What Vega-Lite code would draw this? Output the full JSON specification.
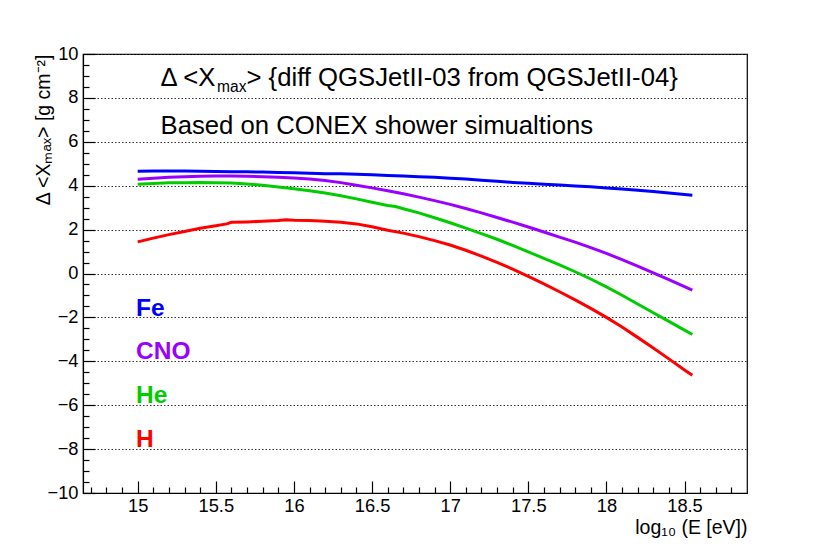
{
  "$schema": "https://vega.github.io/schema/vega-lite/v6.json",
  "width": 664,
  "height": 439,
  "autosize": {"type": "none"},
  "padding": {"left": 83, "top": 54, "right": 83, "bottom": 55},
  "background": "white",
  "config": {
    "view": {"stroke": "black", "strokeWidth": 1.2},
    "font": "Liberation Sans",
    "axis": {
      "domainColor": "black",
      "domainWidth": 1.2,
      "tickColor": "black",
      "tickWidth": 1.2,
      "labelColor": "black",
      "labelFont": "Liberation Sans",
      "labelFontSize": 18.3,
      "titleFont": "Liberation Sans",
      "titleFontWeight": "normal",
      "titleColor": "black"
    }
  },
  "datasets": {
    "curves": [
      {"logE": 15.0, "dXmax": 4.66, "primary": "Fe"},
      {"logE": 15.1, "dXmax": 4.67, "primary": "Fe"},
      {"logE": 15.2, "dXmax": 4.67, "primary": "Fe"},
      {"logE": 15.3, "dXmax": 4.67, "primary": "Fe"},
      {"logE": 15.4, "dXmax": 4.66, "primary": "Fe"},
      {"logE": 15.5, "dXmax": 4.65, "primary": "Fe"},
      {"logE": 15.6, "dXmax": 4.64, "primary": "Fe"},
      {"logE": 15.7, "dXmax": 4.63, "primary": "Fe"},
      {"logE": 15.8, "dXmax": 4.62, "primary": "Fe"},
      {"logE": 15.9, "dXmax": 4.60, "primary": "Fe"},
      {"logE": 16.0, "dXmax": 4.59, "primary": "Fe"},
      {"logE": 16.1, "dXmax": 4.57, "primary": "Fe"},
      {"logE": 16.2, "dXmax": 4.55, "primary": "Fe"},
      {"logE": 16.3, "dXmax": 4.54, "primary": "Fe"},
      {"logE": 16.4, "dXmax": 4.52, "primary": "Fe"},
      {"logE": 16.5, "dXmax": 4.50, "primary": "Fe"},
      {"logE": 16.6, "dXmax": 4.47, "primary": "Fe"},
      {"logE": 16.7, "dXmax": 4.44, "primary": "Fe"},
      {"logE": 16.8, "dXmax": 4.41, "primary": "Fe"},
      {"logE": 16.9, "dXmax": 4.38, "primary": "Fe"},
      {"logE": 17.0, "dXmax": 4.34, "primary": "Fe"},
      {"logE": 17.1, "dXmax": 4.30, "primary": "Fe"},
      {"logE": 17.2, "dXmax": 4.25, "primary": "Fe"},
      {"logE": 17.3, "dXmax": 4.20, "primary": "Fe"},
      {"logE": 17.4, "dXmax": 4.15, "primary": "Fe"},
      {"logE": 17.5, "dXmax": 4.11, "primary": "Fe"},
      {"logE": 17.6, "dXmax": 4.07, "primary": "Fe"},
      {"logE": 17.7, "dXmax": 4.03, "primary": "Fe"},
      {"logE": 17.8, "dXmax": 3.99, "primary": "Fe"},
      {"logE": 17.9, "dXmax": 3.95, "primary": "Fe"},
      {"logE": 18.0, "dXmax": 3.90, "primary": "Fe"},
      {"logE": 18.1, "dXmax": 3.85, "primary": "Fe"},
      {"logE": 18.2, "dXmax": 3.79, "primary": "Fe"},
      {"logE": 18.3, "dXmax": 3.74, "primary": "Fe"},
      {"logE": 18.4, "dXmax": 3.67, "primary": "Fe"},
      {"logE": 18.5, "dXmax": 3.60, "primary": "Fe"},
      {"logE": 18.55, "dXmax": 3.57, "primary": "Fe"},

      {"logE": 15.0, "dXmax": 4.29, "primary": "CNO"},
      {"logE": 15.1, "dXmax": 4.34, "primary": "CNO"},
      {"logE": 15.2, "dXmax": 4.38, "primary": "CNO"},
      {"logE": 15.3, "dXmax": 4.41, "primary": "CNO"},
      {"logE": 15.4, "dXmax": 4.43, "primary": "CNO"},
      {"logE": 15.5, "dXmax": 4.44, "primary": "CNO"},
      {"logE": 15.6, "dXmax": 4.44, "primary": "CNO"},
      {"logE": 15.7, "dXmax": 4.43, "primary": "CNO"},
      {"logE": 15.8, "dXmax": 4.41, "primary": "CNO"},
      {"logE": 15.9, "dXmax": 4.39, "primary": "CNO"},
      {"logE": 16.0, "dXmax": 4.35, "primary": "CNO"},
      {"logE": 16.1, "dXmax": 4.30, "primary": "CNO"},
      {"logE": 16.2, "dXmax": 4.24, "primary": "CNO"},
      {"logE": 16.3, "dXmax": 4.14, "primary": "CNO"},
      {"logE": 16.4, "dXmax": 4.02, "primary": "CNO"},
      {"logE": 16.5, "dXmax": 3.90, "primary": "CNO"},
      {"logE": 16.6, "dXmax": 3.77, "primary": "CNO"},
      {"logE": 16.7, "dXmax": 3.63, "primary": "CNO"},
      {"logE": 16.8, "dXmax": 3.48, "primary": "CNO"},
      {"logE": 16.9, "dXmax": 3.32, "primary": "CNO"},
      {"logE": 17.0, "dXmax": 3.15, "primary": "CNO"},
      {"logE": 17.1, "dXmax": 2.96, "primary": "CNO"},
      {"logE": 17.2, "dXmax": 2.76, "primary": "CNO"},
      {"logE": 17.3, "dXmax": 2.55, "primary": "CNO"},
      {"logE": 17.4, "dXmax": 2.34, "primary": "CNO"},
      {"logE": 17.5, "dXmax": 2.12, "primary": "CNO"},
      {"logE": 17.6, "dXmax": 1.89, "primary": "CNO"},
      {"logE": 17.7, "dXmax": 1.66, "primary": "CNO"},
      {"logE": 17.8, "dXmax": 1.43, "primary": "CNO"},
      {"logE": 17.9, "dXmax": 1.18, "primary": "CNO"},
      {"logE": 18.0, "dXmax": 0.92, "primary": "CNO"},
      {"logE": 18.1, "dXmax": 0.63, "primary": "CNO"},
      {"logE": 18.2, "dXmax": 0.34, "primary": "CNO"},
      {"logE": 18.3, "dXmax": 0.03, "primary": "CNO"},
      {"logE": 18.4, "dXmax": -0.28, "primary": "CNO"},
      {"logE": 18.5, "dXmax": -0.60, "primary": "CNO"},
      {"logE": 18.55, "dXmax": -0.76, "primary": "CNO"},

      {"logE": 15.0, "dXmax": 4.07, "primary": "He"},
      {"logE": 15.1, "dXmax": 4.10, "primary": "He"},
      {"logE": 15.2, "dXmax": 4.13, "primary": "He"},
      {"logE": 15.3, "dXmax": 4.14, "primary": "He"},
      {"logE": 15.4, "dXmax": 4.15, "primary": "He"},
      {"logE": 15.5, "dXmax": 4.14, "primary": "He"},
      {"logE": 15.6, "dXmax": 4.12, "primary": "He"},
      {"logE": 15.7, "dXmax": 4.08, "primary": "He"},
      {"logE": 15.8, "dXmax": 4.02, "primary": "He"},
      {"logE": 15.9, "dXmax": 3.94, "primary": "He"},
      {"logE": 16.0, "dXmax": 3.86, "primary": "He"},
      {"logE": 16.1, "dXmax": 3.77, "primary": "He"},
      {"logE": 16.2, "dXmax": 3.67, "primary": "He"},
      {"logE": 16.3, "dXmax": 3.54, "primary": "He"},
      {"logE": 16.4, "dXmax": 3.40, "primary": "He"},
      {"logE": 16.5, "dXmax": 3.25, "primary": "He"},
      {"logE": 16.6, "dXmax": 3.10, "primary": "He"},
      {"logE": 16.65, "dXmax": 3.05, "primary": "He"},
      {"logE": 16.7, "dXmax": 2.95, "primary": "He"},
      {"logE": 16.8, "dXmax": 2.76, "primary": "He"},
      {"logE": 16.9, "dXmax": 2.54, "primary": "He"},
      {"logE": 17.0, "dXmax": 2.31, "primary": "He"},
      {"logE": 17.1, "dXmax": 2.07, "primary": "He"},
      {"logE": 17.2, "dXmax": 1.82, "primary": "He"},
      {"logE": 17.3, "dXmax": 1.56, "primary": "He"},
      {"logE": 17.4, "dXmax": 1.28, "primary": "He"},
      {"logE": 17.5, "dXmax": 0.99, "primary": "He"},
      {"logE": 17.6, "dXmax": 0.69, "primary": "He"},
      {"logE": 17.7, "dXmax": 0.39, "primary": "He"},
      {"logE": 17.8, "dXmax": 0.08, "primary": "He"},
      {"logE": 17.9, "dXmax": -0.25, "primary": "He"},
      {"logE": 18.0, "dXmax": -0.61, "primary": "He"},
      {"logE": 18.1, "dXmax": -0.99, "primary": "He"},
      {"logE": 18.2, "dXmax": -1.39, "primary": "He"},
      {"logE": 18.3, "dXmax": -1.79, "primary": "He"},
      {"logE": 18.4, "dXmax": -2.18, "primary": "He"},
      {"logE": 18.5, "dXmax": -2.58, "primary": "He"},
      {"logE": 18.55, "dXmax": -2.78, "primary": "He"},

      {"logE": 15.0, "dXmax": 1.44, "primary": "H"},
      {"logE": 15.1, "dXmax": 1.61, "primary": "H"},
      {"logE": 15.2, "dXmax": 1.77, "primary": "H"},
      {"logE": 15.3, "dXmax": 1.91, "primary": "H"},
      {"logE": 15.4, "dXmax": 2.06, "primary": "H"},
      {"logE": 15.5, "dXmax": 2.18, "primary": "H"},
      {"logE": 15.57, "dXmax": 2.26, "primary": "H"},
      {"logE": 15.6, "dXmax": 2.33, "primary": "H"},
      {"logE": 15.7, "dXmax": 2.35, "primary": "H"},
      {"logE": 15.8, "dXmax": 2.38, "primary": "H"},
      {"logE": 15.9, "dXmax": 2.41, "primary": "H"},
      {"logE": 15.95, "dXmax": 2.45, "primary": "H"},
      {"logE": 16.0, "dXmax": 2.43, "primary": "H"},
      {"logE": 16.1, "dXmax": 2.42, "primary": "H"},
      {"logE": 16.2, "dXmax": 2.38, "primary": "H"},
      {"logE": 16.3, "dXmax": 2.33, "primary": "H"},
      {"logE": 16.4, "dXmax": 2.26, "primary": "H"},
      {"logE": 16.5, "dXmax": 2.13, "primary": "H"},
      {"logE": 16.6, "dXmax": 1.97, "primary": "H"},
      {"logE": 16.7, "dXmax": 1.84, "primary": "H"},
      {"logE": 16.8, "dXmax": 1.68, "primary": "H"},
      {"logE": 16.9, "dXmax": 1.50, "primary": "H"},
      {"logE": 17.0, "dXmax": 1.30, "primary": "H"},
      {"logE": 17.1, "dXmax": 1.06, "primary": "H"},
      {"logE": 17.2, "dXmax": 0.79, "primary": "H"},
      {"logE": 17.3, "dXmax": 0.51, "primary": "H"},
      {"logE": 17.4, "dXmax": 0.20, "primary": "H"},
      {"logE": 17.5, "dXmax": -0.13, "primary": "H"},
      {"logE": 17.6, "dXmax": -0.47, "primary": "H"},
      {"logE": 17.7, "dXmax": -0.83, "primary": "H"},
      {"logE": 17.8, "dXmax": -1.20, "primary": "H"},
      {"logE": 17.9, "dXmax": -1.59, "primary": "H"},
      {"logE": 18.0, "dXmax": -2.00, "primary": "H"},
      {"logE": 18.1, "dXmax": -2.44, "primary": "H"},
      {"logE": 18.2, "dXmax": -2.91, "primary": "H"},
      {"logE": 18.3, "dXmax": -3.39, "primary": "H"},
      {"logE": 18.4, "dXmax": -3.89, "primary": "H"},
      {"logE": 18.5, "dXmax": -4.40, "primary": "H"},
      {"logE": 18.55, "dXmax": -4.64, "primary": "H"}
    ],
    "labels": [
      {"primary": "Fe", "lx": 14.99, "ly": -1.95},
      {"primary": "CNO", "lx": 14.99, "ly": -3.88},
      {"primary": "He", "lx": 14.99, "ly": -5.91},
      {"primary": "H", "lx": 14.99, "ly": -7.92}
    ],
    "notes": [
      {"note": "Δ <X", "nx": 15.146, "ny": 8.52},
      {"note": "> {diff QGSJetII-03 from QGSJetII-04}", "nx": 15.696, "ny": 8.52},
      {"note": "Based on CONEX shower simualtions", "nx": 15.146, "ny": 6.35}
    ],
    "subs": [
      {"note": "max", "nx": 15.508, "ny": 8.28}
    ]
  },
  "layer": [
    {
      "data": {"name": "curves"},
      "mark": {"type": "line", "strokeWidth": 3, "interpolate": "linear"},
      "encoding": {
        "x": {
          "field": "logE", "type": "quantitative",
          "scale": {"domain": [14.65, 18.9], "nice": false, "zero": false},
          "axis": {
            "orient": "bottom",
            "values": [15, 15.5, 16, 16.5, 17, 17.5, 18, 18.5],
            "format": "~g",
            "tickSize": -12,
            "labelPadding": 16,
            "grid": false,
            "labelFlush": false,
            "title": "log₁₀ (E [eV])",
            "titleFontSize": 19.5,
            "titleAnchor": "end",
            "titleAlign": "right",
            "titleBaseline": "alphabetic",
            "titleX": 664,
            "titleY": 40
          }
        },
        "y": {
          "field": "dXmax", "type": "quantitative",
          "scale": {"domain": [-10, 10], "nice": false, "zero": false},
          "axis": {
            "orient": "left",
            "values": [-10, -8, -6, -4, -2, 0, 2, 4, 6, 8, 10],
            "tickSize": -12,
            "labelPadding": 17,
            "labelFlush": false,
            "grid": true,
            "gridColor": "#333333",
            "gridDash": [1.5, 2],
            "gridWidth": 1,
            "title": "Δ <Xₘₐₓ> [g cm⁻²]",
            "titleFontSize": 19.5,
            "titleAngle": -90,
            "titleAnchor": "end",
            "titleAlign": "right",
            "titleBaseline": "alphabetic",
            "titleX": -34,
            "titleY": 0
          }
        },
        "color": {
          "field": "primary", "type": "nominal",
          "scale": {"domain": ["Fe", "CNO", "He", "H"], "range": ["#0000ff", "#9a00ff", "#00cc00", "#ff0000"]},
          "legend": null
        }
      }
    },
    {
      "data": {"name": "curves"},
      "mark": {"type": "point", "opacity": 0},
      "encoding": {
        "x": {
          "field": "logE", "type": "quantitative",
          "axis": {
            "orient": "bottom",
            "values": [14.7, 14.8, 14.9, 15.1, 15.2, 15.3, 15.4, 15.6, 15.7, 15.8, 15.9, 16.1, 16.2, 16.3, 16.4, 16.6, 16.7, 16.8, 16.9, 17.1, 17.2, 17.3, 17.4, 17.6, 17.7, 17.8, 17.9, 18.1, 18.2, 18.3, 18.4, 18.6, 18.7, 18.8],
            "tickSize": -6,
            "labels": false,
            "domain": false,
            "grid": false,
            "title": null
          }
        },
        "y": {
          "field": "dXmax", "type": "quantitative",
          "axis": {
            "orient": "left",
            "values": [-9.5, -9, -8.5, -7.5, -7, -6.5, -5.5, -5, -4.5, -3.5, -3, -2.5, -1.5, -1, -0.5, 0.5, 1, 1.5, 2.5, 3, 3.5, 4.5, 5, 5.5, 6.5, 7, 7.5, 8.5, 9, 9.5],
            "tickSize": -6,
            "labels": false,
            "domain": false,
            "grid": false,
            "title": null
          }
        }
      }
    },
    {
      "data": {"name": "labels"},
      "mark": {"type": "text", "align": "left", "baseline": "alphabetic", "fontSize": 24.5, "fontWeight": "bold", "font": "Liberation Sans"},
      "encoding": {
        "x": {"field": "lx", "type": "quantitative", "axis": null},
        "y": {"field": "ly", "type": "quantitative", "axis": null},
        "text": {"field": "primary"},
        "color": {"field": "primary", "type": "nominal", "legend": null}
      }
    },
    {
      "data": {"name": "notes"},
      "mark": {"type": "text", "align": "left", "baseline": "alphabetic", "fontSize": 25.7, "font": "Liberation Sans", "color": "black"},
      "encoding": {
        "x": {"field": "nx", "type": "quantitative", "axis": null},
        "y": {"field": "ny", "type": "quantitative", "axis": null},
        "text": {"field": "note"}
      }
    },
    {
      "data": {"name": "subs"},
      "mark": {"type": "text", "align": "left", "baseline": "alphabetic", "fontSize": 15.6, "font": "Liberation Sans", "color": "black"},
      "encoding": {
        "x": {"field": "nx", "type": "quantitative", "axis": null},
        "y": {"field": "ny", "type": "quantitative", "axis": null},
        "text": {"field": "note"}
      }
    }
  ],
  "resolve": {"axis": {"x": "independent", "y": "independent"}}
}
